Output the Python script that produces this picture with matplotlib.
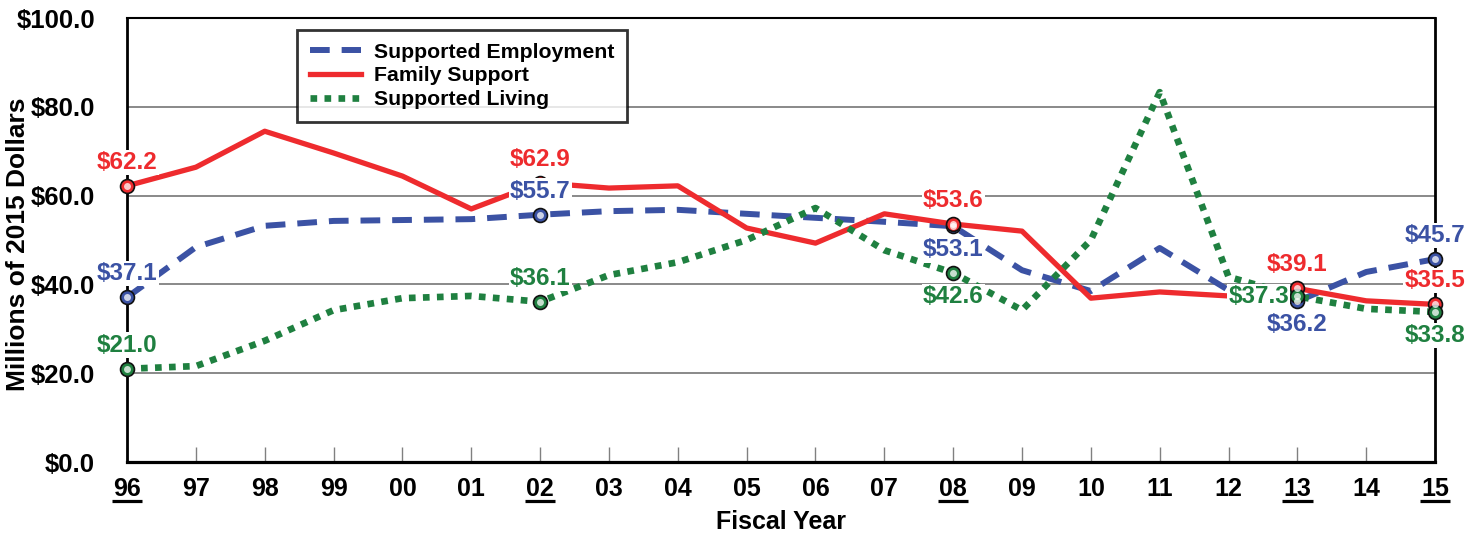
import numpy as np
import matplotlib
matplotlib.use("Agg")
import matplotlib.pyplot as plt
import matplotlib.transforms as mtransforms
from matplotlib import font_manager

# --- Data (millions of 2015 dollars) ---
years = ["96", "97", "98", "99", "00", "01", "02", "03", "04", "05",
         "06", "07", "08", "09", "10", "11", "12", "13", "14", "15"]
underlined = ["96", "02", "08", "13", "15"]

supported_employment = [37.1, 48.4, 53.2, 54.3, 54.5, 54.7, 55.7, 56.5, 56.8, 55.9,
                        55.0, 54.1, 53.1, 43.2, 38.5, 48.2, 38.7, 36.2, 42.8, 45.7]
family_support = [62.2, 66.4, 74.5, 69.6, 64.4, 57.0, 62.9, 61.7, 62.2, 52.7,
                  49.3, 55.9, 53.6, 52.0, 36.9, 38.3, 37.4, 39.1, 36.3, 35.5]
supported_living = [21.0, 21.6, 27.3, 34.2, 36.9, 37.4, 36.1, 42.1, 45.0, 50.0,
                    57.2, 47.7, 42.6, 34.2, 50.0, 83.3, 41.7, 37.3, 34.5, 33.8]

# where each value label sits at the marked years
label_spots = {
    "Supported Employment": {0: "up", 6: "up", 12: "down", 17: "down", 19: "up"},
    "Family Support": {0: "up", 6: "up", 12: "up", 17: "up", 19: "up"},
    "Supported Living": {0: "up", 6: "up", 12: "down", 17: "left", 19: "down"},
}

BLUE = "#3B52A4"
RED = "#EE2B2E"
GREEN = "#1F8040"

installed = {f.name for f in font_manager.fontManager.ttflist}
MAIN = "Liberation Sans" if "Liberation Sans" in installed else "DejaVu Sans"
plt.rcParams["font.family"] = MAIN
plt.rcParams["font.weight"] = "bold"

fig = plt.figure(figsize=(14.79, 5.33), dpi=100)
ax = fig.add_axes([0.0859, 0.1332, 0.8844, 0.8330])

x = np.arange(len(years))

series = [
    ("Supported Employment", supported_employment, BLUE,
     dict(linestyle=(0, (3.3, 2.0)), linewidth=4.3, dash_capstyle="butt")),
    ("Family Support", family_support, RED,
     dict(linestyle="-", linewidth=3.8)),
    ("Supported Living", supported_living, GREEN,
     dict(linestyle=(0, (1.0, 1.1)), linewidth=4.8, dash_capstyle="butt")),
]

for name, vals, color, style in series:
    ax.plot(x, vals, color=color, label=name, zorder=3, clip_on=False, **style)

# markers and value labels
for name, vals, color, style in series:
    idx = sorted(label_spots[name].keys())
    mx = [x[i] for i in idx]
    my = [vals[i] for i in idx]
    ax.plot(mx, my, "o", markersize=10, markerfacecolor=color,
            markeredgecolor="#111111", markeredgewidth=1.2, zorder=4, clip_on=False)
    ax.plot(mx, my, "o", markersize=5, markerfacecolor="white",
            markeredgewidth=0, alpha=0.75, zorder=5, clip_on=False)
    for i, where in label_spots[name].items():
        if where == "up":
            off, ha = (0, 17), "center"
        elif where == "down":
            off, ha = (0, -17), "center"
        else:
            off, ha = (-6, 0), "right"
        ax.annotate(f"${vals[i]:.1f}", (x[i], vals[i]), xytext=off,
                    textcoords="offset points", ha=ha, va="center",
                    fontsize=17.5, fontweight="bold", color=color, zorder=6,
                    annotation_clip=False,
                    bbox=dict(boxstyle="square,pad=0.05", fc="white", ec="none"))

# axes styling
ax.set_xlim(0, len(years) - 1)
ax.set_ylim(0, 100)
ax.set_yticks(np.arange(0, 101, 20))
ax.set_yticklabels([f"${v:.1f}" for v in range(0, 101, 20)], fontsize=18.5, fontweight="bold")
ax.set_xticks(x)
ax.set_xticklabels(years, fontsize=18, fontweight="bold")
ax.tick_params(axis="y", length=0, pad=23)
ax.tick_params(axis="x", direction="in", length=11, width=1, color="#808080", pad=11)
ax.grid(axis="y", color="#808080", linewidth=1.3, zorder=1)
ax.set_axisbelow(True)

ax.spines["left"].set_linewidth(2.0)
ax.spines["bottom"].set_linewidth(2.3)
ax.spines["right"].set_linewidth(2.0)
ax.spines["top"].set_linewidth(1.5)
for s in ax.spines.values():
    s.set_color("black")

# underline selected years
trans = mtransforms.blended_transform_factory(ax.transData, ax.transAxes)
for y in underlined:
    i = years.index(y)
    ax.plot([i - 0.22, i + 0.22], [-0.087, -0.087], color="black", linewidth=2.3,
            transform=trans, clip_on=False, solid_capstyle="butt")

ax.set_xlabel("Fiscal Year", fontsize=18, fontweight="bold", labelpad=6)
ax.set_ylabel("Millions of 2015 Dollars", fontsize=19, fontweight="bold",
              va="center")
ax.yaxis.set_label_coords(-0.0835, 0.49)

leg = ax.legend(loc="upper left", bbox_to_anchor=(0.130, 0.973), borderaxespad=0,
                frameon=True, fancybox=False, handlelength=2.4, handletextpad=0.6,
                borderpad=0.6, labelspacing=0.22, prop=dict(weight="bold", size=15.3))
leg.get_frame().set_edgecolor("black")
leg.get_frame().set_linewidth(2.0)
leg.set_zorder(7)

fig.savefig("out.png", dpi=100)
